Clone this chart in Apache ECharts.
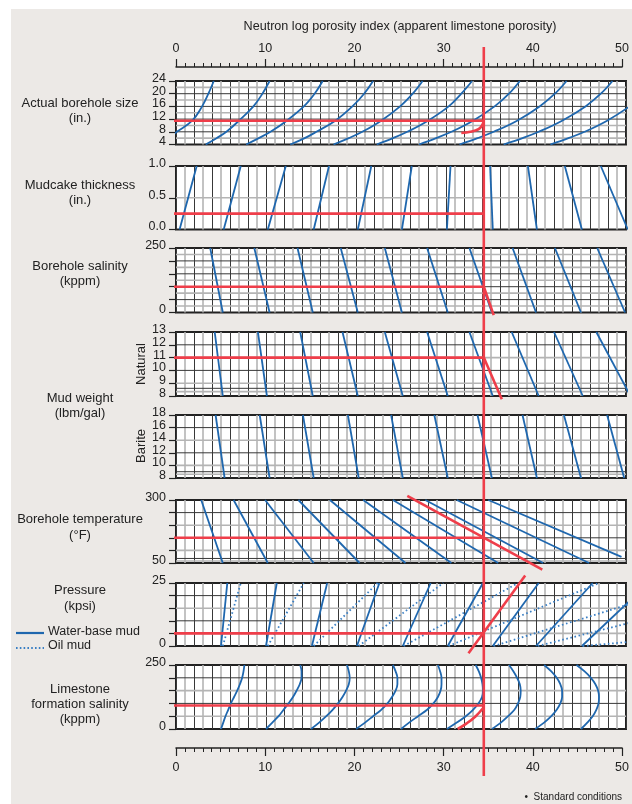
<!DOCTYPE html>
<html>
<head>
<meta charset="utf-8">
<script src="https://cdn.jsdelivr.net/npm/echarts@6/dist/echarts.min.js"></script>
<style>
html,body{margin:0;padding:0;background:#fff;}
#chart{width:632px;height:804px;}
</style>
</head>
<body>
<div id="chart"></div>
<script>
// ---- Data: neutron porosity correction chart ----
const porosityTicks = [0, 10, 20, 30, 40, 50];
const examplePorosity = 34.2;

// Actual borehole size (in.) – porosity read at each size
const boreholeSizes = [4, 6, 8, 11.5, 16, 20, 24];
const boreholeLabels = [4, 8, 12, 16, 20, 24];
const boreholeCurves = [
  [-1.8, -0.8, 0.1, 1.8, 2.9, 3.6, 4.2],
  [3.3, 4.5, 5.6, 7.0, 8.6, 9.6, 10.4],
  [7.8, 9.2, 10.5, 12.3, 14.2, 15.4, 16.3],
  [12.7, 14.3, 15.6, 17.7, 19.6, 20.9, 21.9],
  [17.5, 19.2, 20.7, 22.8, 24.9, 26.3, 27.4],
  [22.3, 24.1, 25.7, 28.0, 30.3, 31.7, 32.9],
  [27.0, 28.9, 30.6, 33.0, 35.4, 37.0, 38.2],
  [31.5, 33.5, 35.3, 37.9, 40.4, 42.1, 43.4],
  [36.4, 38.5, 40.3, 42.9, 45.5, 47.2, 48.5],
  [41.6, 43.6, 45.4, 47.9, 50.4, 52.2, 53.6]
];
const boreholeGridLines = [6, 8, 10, 12, 14, 16, 18, 20, 22];
const boreholeExample = [[-2.7, 11.5], [34.2, 11.5]];
const boreholeExampleCurve = [[31.7, 7.6], [32.7, 8.0], [33.6, 8.8], [34.0, 10.0], [34.2, 11.5]];

// Mudcake thickness (in.) – porosity at 0.0 and 1.0 in.
const mudcakeRange = [0, 1];
const mudcakeLabels = ['0.0', '0.5', '1.0'];
const mudcakeLines = [
  [0.4, 2.3], [5.3, 7.2], [10.2, 12.2], [15.3, 17.0], [20.2, 21.7], [25.1, 26.2],
  [30.1, 30.5], [35.2, 34.9], [40.1, 39.1], [45.1, 43.2], [50.2, 47.2]
];
const mudcakeGridLines = [0.5];
const mudcakeExample = [[-2.7, 0.25], [34.2, 0.25]];

// Borehole salinity (kppm) – porosity at 0 and 250 kppm
const boreSalinityRange = [0, 250];
const boreSalinityLabels = [0, 250];
const boreSalinityLines = [
  [5.2, 3.8], [10.4, 8.7], [15.2, 13.5], [20.2, 18.3], [25.1, 23.2],
  [30.2, 27.9], [35.1, 32.6], [40.0, 37.4], [45.0, 42.1], [49.9, 46.8]
];
const boreSalinityGridLines = [25, 50, 75, 100, 125, 150, 175, 200, 225];
const boreSalinityExample = [[-2.7, 100], [34.2, 100]];
const boreSalinityExampleSlope = [[34.2, 100], [35.3, -10]];

// Mud weight, natural (lbm/gal) – porosity at 8 and 13
const naturalRange = [8, 13];
const naturalLabels = [8, 9, 10, 11, 12, 13];
const naturalLines = [
  [5.2, 4.3], [10.1, 9.1], [15.2, 13.8], [20.2, 18.5], [25.2, 23.2],
  [30.2, 27.9], [35.2, 32.6], [40.3, 37.3], [45.2, 42.0], [50.5, 46.7]
];
const naturalGridLines = [8.345, 8.6, 9, 10, 11, 12];
const naturalExample = [[-2.7, 11], [34.2, 11]];
const naturalExampleSlope = [[34.2, 11], [36.2, 7.75]];

// Mud weight, barite (lbm/gal) – porosity at 8 and 18
const bariteRange = [8, 18];
const bariteLabels = [8, 10, 12, 14, 16, 18];
const bariteLines = [
  [5.4, 4.4], [10.4, 9.3], [15.3, 14.1], [20.3, 19.1], [25.2, 23.9],
  [30.2, 28.7], [35.1, 33.5], [40.1, 38.5], [45.0, 43.1], [49.8, 47.9]
];
const bariteGridLines = [8.6, 9, 10, 12, 14, 16];

// Borehole temperature (°F) – [porosity, temp] end points
const temperatureLabels = [50, 300];
const temperatureLines = [
  [[5.2, 50], [2.8, 300]], [[10.2, 50], [6.4, 300]], [[15.3, 50], [9.9, 300]],
  [[20.4, 50], [13.6, 300]], [[25.5, 50], [17.1, 300]], [[30.6, 50], [20.8, 300]],
  [[35.8, 50], [24.1, 300]], [[40.8, 50], [27.7, 300]], [[45.9, 50], [31.2, 300]],
  [[49.5, 74], [34.7, 300]]
];
const temperatureGridLines = [58, 68, 100, 150, 200, 250];
const temperatureExample = [[-2.7, 150], [34.2, 150]];
const temperatureExampleSlope = [[25.7, 316], [40.7, 24]];

// Pressure (kpsi) – porosity at 0 and 25 kpsi
const pressureRange = [0, 25];
const pressureLabels = [0, 25];
const waterMudLines = [
  [5.0, 5.7], [10.0, 11.2], [15.1, 16.8], [20.1, 22.6], [25.2, 28.3],
  [30.2, 34.1], [35.2, 40.3], [40.0, 46.3], [45.1, 52.5]
];
const oilMudLines = [
  [5.2, 7.2], [10.2, 14.2], [15.3, 22.4], [20.3, 29.7], [25.3, 38.0],
  [30.3, 47.0], [35.3, 58.0], [40.2, 68.0], [45.2, 125.0]
];
const pressureGridLines = [5, 10, 15, 20];
const pressureExample = [[-2.7, 5], [34.2, 5]];
const pressureExampleSlope = [[32.5, -2.9], [38.8, 28]];

// Limestone formation salinity (kppm) – porosity at each salinity
const formSalinity = [0, 25, 50, 75, 100, 125, 150, 175, 200, 225, 250];
const formSalinityLabels = [0, 250];
const formSalinityCurves = [
  [5.0, 5.25, 5.5, 5.8, 6.1, 6.45, 6.8, 7.1, 7.35, 7.5, 7.6],
  [10.0, 10.7, 11.4, 11.95, 12.5, 13.0, 13.4, 13.75, 13.95, 13.95, 13.8],
  [15.0, 15.9, 16.7, 17.4, 18.0, 18.5, 18.9, 19.2, 19.3, 19.2, 19.0],
  [20.0, 21.0, 21.9, 22.8, 23.5, 24.0, 24.4, 24.6, 24.6, 24.4, 24.1],
  [25.0, 25.9, 26.9, 27.9, 28.6, 29.1, 29.4, 29.5, 29.5, 29.35, 29.1],
  [30.1, 31.2, 32.2, 33.0, 33.6, 34.0, 34.1, 34.05, 33.9, 33.65, 33.3],
  [35.1, 36.1, 36.9, 37.6, 38.0, 38.25, 38.3, 38.2, 37.9, 37.5, 37.0],
  [39.9, 40.9, 41.7, 42.3, 42.7, 42.9, 42.9, 42.7, 42.3, 41.7, 40.9],
  [45.0, 45.7, 46.3, 46.7, 46.95, 47.0, 46.9, 46.6, 46.1, 45.4, 44.5]
];
const formSalinityGridLines = [50, 100, 150, 200];
const formSalinityExample = [[-2.7, 92], [34.2, 92]];
const formSalinityExampleCurve = [[31.3, 0], [32.3, 22], [33.3, 50], [34.2, 85]];

// ---- Layout & styles ----
const FONT = '"Liberation Sans", Arial, sans-serif';
const INK = '#222';
const BLUE = '#1f67ae';
const DOT_BLUE = '#3a7fc4';
const RED = '#ef3e4a';
const DARK_RULE = '#383838';
const LIGHT_RULE = '#b4b4b4';
const GRID_LEFT = 176, GRID_RIGHT = 6;
const panels = [
  { top: 81,  height: 63.5, min: 4,  max: 24,  interval: 4,   labels: boreholeLabels,      rules: boreholeGridLines },
  { top: 166, height: 63.5, min: 0,  max: 1,   interval: 0.5, labels: mudcakeLabels,       rules: mudcakeGridLines },
  { top: 248, height: 64.5, min: 0,  max: 250, interval: 50,  labels: boreSalinityLabels,  rules: boreSalinityGridLines },
  { top: 332, height: 64,   min: 8,  max: 13,  interval: 1,   labels: naturalLabels,       rules: naturalGridLines },
  { top: 415, height: 63,   min: 8,  max: 18,  interval: 2,   labels: bariteLabels,        rules: bariteGridLines },
  { top: 500, height: 63,   min: 50, max: 300, interval: 50,  labels: temperatureLabels,   rules: temperatureGridLines },
  { top: 583, height: 63,   min: 0,  max: 25,  interval: 5,   labels: pressureLabels,      rules: pressureGridLines },
  { top: 665, height: 64,   min: 0,  max: 250, interval: 50,  labels: formSalinityLabels,  rules: formSalinityGridLines }
];

const grids = [], xAxes = [], yAxes = [], series = [];

panels.forEach((p, i) => {
  grids.push({
    left: GRID_LEFT, right: GRID_RIGHT, top: p.top, height: p.height,
    show: true, backgroundColor: '#fff', borderColor: INK, borderWidth: 2, containLabel: false
  });
  xAxes.push({
    gridIndex: i, type: 'value', min: 0, max: 50, interval: 2,
    axisLine: { show: false }, axisTick: { show: false }, axisLabel: { show: false },
    splitLine: { show: true, lineStyle: { color: DARK_RULE, width: 1 } },
    minorTick: { show: false, splitNumber: 2 },
    minorSplitLine: { show: true, lineStyle: { color: LIGHT_RULE, width: 1.6 } }
  });
  yAxes.push({
    gridIndex: i, type: 'value', min: p.min, max: p.max, interval: p.interval,
    axisLine: { show: false },
    axisTick: { show: true, length: 7, lineStyle: { color: INK, width: 1.2 } },
    axisLabel: { show: false },
    splitLine: { show: false }
  });
  // horizontal rules inside the panel, alternating light / dark
  p.rules.forEach((v, k) => {
    series.push({
      type: 'line', xAxisIndex: i, yAxisIndex: i, data: [[0, v], [50, v]], symbol: 'none',
      silent: true, animation: false, z: 1,
      lineStyle: k % 2 === 0 ? { color: LIGHT_RULE, width: 1.6 } : { color: DARK_RULE, width: 1 }
    });
  });
});

// Top and bottom porosity scales
[['top', 66], ['bottom', 747]].forEach(([pos, top]) => {
  const gi = grids.length;
  grids.push({ left: GRID_LEFT, right: GRID_RIGHT, top: top, height: 1, show: false });
  xAxes.push({
    gridIndex: gi, type: 'value', min: porosityTicks[0], max: porosityTicks[porosityTicks.length - 1],
    interval: 10, position: pos,
    axisLine: { show: true, lineStyle: { color: INK, width: 1.5 } },
    axisTick: { show: true, length: 8, lineStyle: { color: INK, width: 1.2 } },
    minorTick: { show: true, splitNumber: 10, length: 4, lineStyle: { color: INK, width: 1 } },
    axisLabel: { show: true, margin: pos === 'top' ? 11 : 13, color: INK, fontFamily: FONT, fontSize: 12.5,
      showMinLabel: true, showMaxLabel: true },
    splitLine: { show: false }
  });
  yAxes.push({ gridIndex: gi, show: false, min: 0, max: 1 });
});

function blue(gi, data, extra) {
  return Object.assign({
    type: 'line', xAxisIndex: gi, yAxisIndex: gi, data: data, symbol: 'none',
    silent: true, animation: false, z: 3,
    lineStyle: { color: BLUE, width: 1.8 }
  }, extra || {});
}
function red(gi, data, smooth) {
  return {
    type: 'line', xAxisIndex: gi, yAxisIndex: gi, data: data, symbol: 'none',
    silent: true, animation: false, clip: false, z: 6,
    smooth: smooth ? 0.4 : false,
    lineStyle: { color: RED, width: 2.6, cap: 'butt' }
  };
}
const pairLines = (gi, lines, range, extra) =>
  lines.forEach(l => series.push(blue(gi, [[l[0], range[0]], [l[1], range[1]]], extra)));

// Panel 0: borehole size curves
boreholeCurves.forEach(c => series.push(blue(0, c.map((x, k) => [x, boreholeSizes[k]]), { smooth: 0.4 })));
series.push(red(0, boreholeExample), red(0, boreholeExampleCurve, true));

// Panel 1: mudcake
pairLines(1, mudcakeLines, mudcakeRange);
series.push(red(1, mudcakeExample));

// Panel 2: borehole salinity
pairLines(2, boreSalinityLines, boreSalinityRange);
series.push(red(2, boreSalinityExample), red(2, boreSalinityExampleSlope));

// Panel 3: natural mud weight
pairLines(3, naturalLines, naturalRange);
series.push(red(3, naturalExample), red(3, naturalExampleSlope));

// Panel 4: barite mud weight
pairLines(4, bariteLines, bariteRange);

// Panel 5: temperature
temperatureLines.forEach(l => series.push(blue(5, l)));
series.push(red(5, temperatureExample), red(5, temperatureExampleSlope));

// Panel 6: pressure
pairLines(6, waterMudLines, pressureRange);
pairLines(6, oilMudLines, pressureRange, { lineStyle: { color: DOT_BLUE, width: 1.8, type: [1.6, 2.6] } });
series.push(red(6, pressureExample), red(6, pressureExampleSlope));

// Panel 7: limestone formation salinity
formSalinityCurves.forEach(c => series.push(blue(7, c.map((x, k) => [x, formSalinity[k]]), { smooth: 0.35 })));
series.push(red(7, formSalinityExample), red(7, formSalinityExampleCurve, true));

// ---- Text annotations ----
const LABEL_FONT = '13px ' + FONT;
const txt = (x, y, text, opt) => ({
  type: 'text', x: x, y: y, silent: true, z: 20,
  style: Object.assign({ text: text, fill: INK, font: LABEL_FONT, textAlign: 'center', textVerticalAlign: 'middle' }, (opt || {}))
});
const leftX = 80;
const graphics = [
  { type: 'rect', shape: { x: 11, y: 9, width: 632 - 11, height: 804 - 9 }, style: { fill: '#ece9e6' }, z: -10, silent: true },
  txt(400, 27, 'Neutron log porosity index (apparent limestone porosity)', { font: '12.6px ' + FONT }),
  txt(leftX, 103, 'Actual borehole size'), txt(leftX, 118, '(in.)'),
  txt(leftX, 185, 'Mudcake thickness'), txt(leftX, 200, '(in.)'),
  txt(leftX, 266, 'Borehole salinity'), txt(leftX, 281, '(kppm)'),
  txt(leftX, 398, 'Mud weight'), txt(leftX, 413, '(lbm/gal)'),
  txt(leftX, 519, 'Borehole temperature'), txt(leftX, 535, '(°F)'),
  txt(leftX, 590, 'Pressure'), txt(leftX, 606, '(kpsi)'),
  txt(leftX, 689, 'Limestone'), txt(leftX, 704, 'formation salinity'), txt(leftX, 719, '(kppm)'),
  txt(48, 632, 'Water-base mud', { textAlign: 'left', font: '12.5px ' + FONT }),
  txt(48, 646, 'Oil mud', { textAlign: 'left', font: '12.5px ' + FONT }),
  { type: 'line', shape: { x1: 16, y1: 633, x2: 44, y2: 633 }, style: { stroke: BLUE, lineWidth: 2.2 }, silent: true },
  { type: 'line', shape: { x1: 16, y1: 648, x2: 44, y2: 648 }, style: { stroke: DOT_BLUE, lineWidth: 2, lineDash: [1.6, 2.2] }, silent: true },
  { type: 'text', x: 141, y: 364, rotation: Math.PI / 2, silent: true,
    style: { text: 'Natural', fill: INK, font: LABEL_FONT, textAlign: 'center', textVerticalAlign: 'middle' } },
  { type: 'text', x: 141, y: 446, rotation: Math.PI / 2, silent: true,
    style: { text: 'Barite', fill: INK, font: LABEL_FONT, textAlign: 'center', textVerticalAlign: 'middle' } },
  txt(622, 797, '•  Standard conditions', { textAlign: 'right', font: '10px ' + FONT })
];

const chart = echarts.init(document.getElementById('chart'), null, { renderer: 'canvas' });
chart.setOption({
  animation: false,
  backgroundColor: '#ffffff',
  grid: grids, xAxes: undefined, xAxis: xAxes, yAxis: yAxes, series: series,
  graphic: graphics
});

// Tick labels of each panel, placed through the panel's own y scale (set slightly above the tick)
panels.forEach((p, i) => {
  p.labels.forEach(lab => {
    const py = chart.convertToPixel({ yAxisIndex: i }, Number(lab));
    graphics.push(txt(166, py - 2.5, String(lab), { textAlign: 'right', font: '12.5px ' + FONT }));
  });
});

// Vertical example line at the measured porosity, spanning the whole chart
const vx = chart.convertToPixel({ xAxisIndex: 0 }, examplePorosity);
graphics.push({ type: 'line', shape: { x1: vx, y1: 47, x2: vx, y2: 776 }, style: { stroke: RED, lineWidth: 2.6 }, z: 30, silent: true });
chart.setOption({ graphic: graphics });
</script>
</body>
</html>
